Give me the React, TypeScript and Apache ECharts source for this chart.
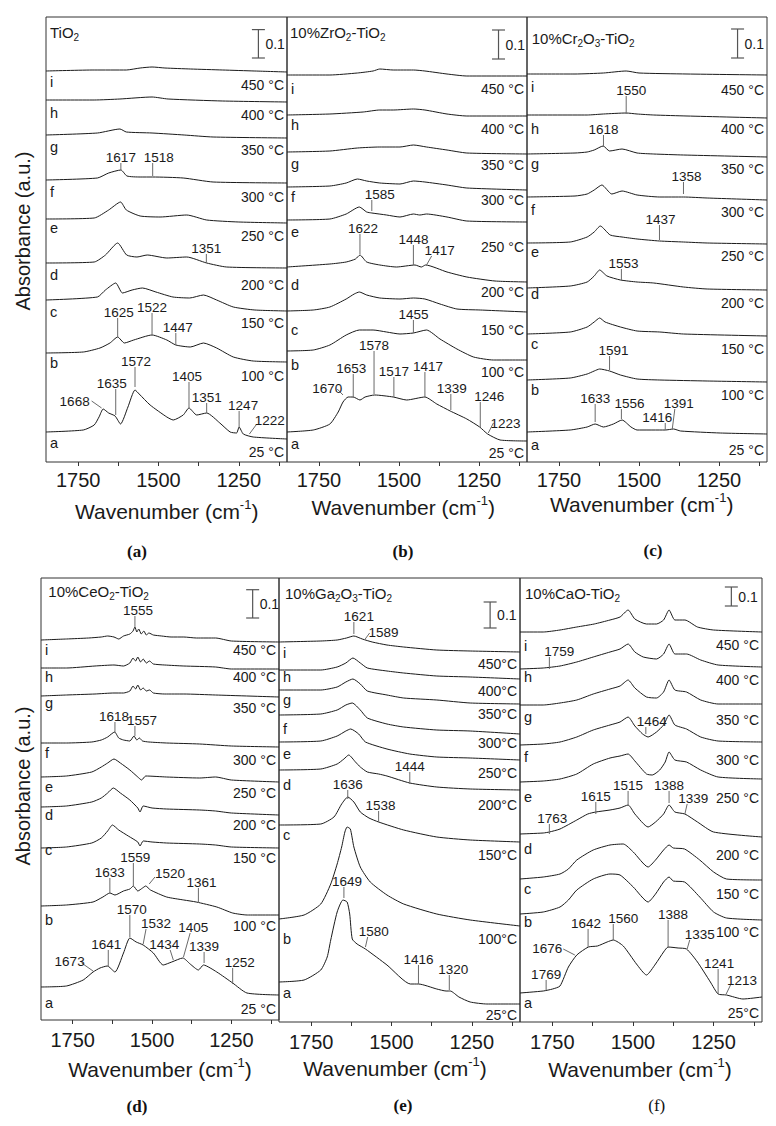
import React, { useEffect, useRef } from 'react';
import * as echarts from 'echarts';

const FONT = '"Liberation Sans", Arial, sans-serif';
const INK = '#1a1a1a';
const LEAD = '#6a6a6a';

// ---------- axis data ----------
const WN_MIN = 1100;
const WN_MAX = 1850;
const tickValues = [1750, 1625, 1500, 1375, 1250, 1125];
const tickLabelValues = [1750, 1500, 1250];
const traceLetters = ['a', 'b', 'c', 'd', 'e', 'f', 'g', 'h', 'i'];
const temperatures = [25, 100, 150, 200, 250, 300, 350, 400, 450];

// ---------- spectra (wavenumber, absorbance a.u.), traces a..i ----------
const tio2Spectra = [
  [[1850,30],[1734,32],[1700,37],[1685,45],[1672,53],[1655,49],[1635,46],[1618,38],[1595,55],[1573,72],[1560,68],[1526,57],[1474,45],[1454,42],[1423,47],[1405,54],[1381,47],[1350,49],[1309,39],[1277,30],[1257,29],[1249,35],[1236,28],[1205,25],[1100,23]],
  [[1850,109],[1734,110],[1682,114],[1651,119],[1627,125],[1606,119],[1577,122],[1520,127],[1474,122],[1446,117],[1401,115],[1360,119],[1319,114],[1267,105],[1205,101],[1100,100]],
  [[1850,162],[1690,165],[1665,172],[1633,179],[1612,169],[1582,172],[1550,174],[1508,170],[1455,165],[1403,164],[1360,167],[1319,162],[1267,155],[1200,152],[1100,151]],
  [[1850,199],[1700,200],[1665,207],[1627,219],[1599,207],[1567,205],[1535,207],[1474,204],[1412,205],[1350,199],[1288,195],[1100,194]],
  [[1850,243],[1700,244],[1655,252],[1618,260],[1600,252],[1557,246],[1495,245],[1412,247],[1350,242],[1250,240],[1100,239]],
  [[1850,282],[1690,284],[1655,289],[1617,292],[1598,286],[1557,285],[1518,285],[1423,284],[1330,280],[1100,279]],
  [[1850,327],[1690,329],[1620,333],[1600,330],[1520,329],[1420,327],[1330,325],[1100,324]],
  [[1850,362],[1700,362],[1620,363],[1520,365],[1470,363],[1300,361],[1100,360]],
  [[1850,391],[1700,392],[1600,392],[1557,394],[1520,395],[1480,394],[1400,393],[1300,392],[1200,391],[1100,390]],
];

const zro2Spectra = [
  [[1850,30],[1768,32],[1716,38],[1690,50],[1675,60],[1659,65],[1643,65],[1622,62],[1606,65],[1576,67],[1518,65],[1476,62],[1419,65],[1382,58],[1340,51],[1288,43],[1248,35],[1223,28],[1184,22],[1100,21]],
  [[1850,111],[1768,112],[1716,117],[1665,127],[1624,132],[1581,132],[1539,130],[1497,128],[1455,129],[1414,132],[1372,123],[1319,113],[1267,105],[1205,102],[1100,102]],
  [[1850,151],[1768,152],[1716,155],[1665,163],[1640,168],[1624,170],[1601,167],[1560,164],[1497,163],[1455,164],[1419,163],[1372,158],[1319,153],[1246,152],[1100,150]],
  [[1850,195],[1716,198],[1665,200],[1636,203],[1622,207],[1601,200],[1560,197],[1508,195],[1450,197],[1430,195],[1417,197],[1350,190],[1288,185],[1200,181],[1100,180]],
  [[1850,242],[1716,243],[1665,248],[1624,255],[1601,250],[1585,249],[1539,247],[1497,245],[1455,248],[1435,247],[1414,248],[1350,245],[1288,241],[1100,240]],
  [[1850,275],[1716,276],[1665,279],[1630,283],[1601,281],[1560,279],[1497,278],[1455,281],[1419,280],[1350,277],[1288,274],[1100,272]],
  [[1850,310],[1716,311],[1630,314],[1560,315],[1497,315],[1455,317],[1414,315],[1350,312],[1288,309],[1100,308]],
  [[1850,347],[1716,348],[1612,350],[1560,352],[1518,352],[1455,353],[1419,352],[1350,348],[1288,346],[1100,346]],
  [[1850,387],[1716,387],[1630,389],[1581,391],[1560,393],[1518,392],[1455,392],[1419,391],[1350,388],[1288,386],[1100,386]],
];

const cr2o3Spectra = [
  [[1850,30],[1715,32],[1662,35],[1637,38],[1611,35],[1580,38],[1553,42],[1525,35],[1506,32],[1418,32],[1392,33],[1370,31],[1246,29],[1100,28]],
  [[1850,82],[1715,84],[1662,88],[1640,91],[1623,93],[1592,91],[1558,87],[1506,83],[1435,82],[1287,81],[1100,80]],
  [[1850,128],[1715,130],[1662,135],[1640,140],[1623,144],[1606,140],[1558,135],[1506,131],[1435,130],[1361,128],[1100,126]],
  [[1850,174],[1715,176],[1662,180],[1640,186],[1623,192],[1600,186],[1558,182],[1506,180],[1454,179],[1361,175],[1287,173],[1100,172]],
  [[1850,219],[1715,220],[1662,225],[1640,230],[1621,236],[1590,227],[1553,225],[1506,223],[1436,221],[1361,220],[1287,219],[1100,218]],
  [[1850,265],[1700,266],[1662,268],[1640,272],[1616,277],[1585,268],[1553,271],[1506,267],[1435,265],[1361,265],[1287,264],[1100,262]],
  [[1850,308],[1700,309],[1662,310],[1640,312],[1612,316],[1592,311],[1553,313],[1506,309],[1454,308],[1361,307],[1100,305]],
  [[1850,347],[1662,347],[1611,348],[1540,349],[1506,348],[1454,347],[1350,346],[1100,344]],
  [[1850,388],[1700,388],[1611,389],[1540,391],[1500,389],[1350,388],[1100,387]],
];

const ceo2Spectra = [
  [[1850,33],[1770,34],[1717,40],[1686,48],[1664,52],[1641,54],[1617,48],[1590,67],[1570,82],[1550,78],[1528,75],[1496,67],[1465,55],[1438,58],[1403,62],[1380,56],[1354,50],[1338,55],[1296,48],[1246,37],[1201,27],[1100,25]],
  [[1850,114],[1770,115],[1686,118],[1655,123],[1633,127],[1617,125],[1590,129],[1570,131],[1559,134],[1545,129],[1530,132],[1520,134],[1505,130],[1454,123],[1400,120],[1361,118],[1296,113],[1246,107],[1200,105],[1100,105]],
  [[1850,172],[1770,173],[1690,177],[1660,182],[1640,189],[1625,195],[1605,190],[1575,184],[1545,178],[1538,174],[1528,179],[1500,178],[1454,177],[1350,176],[1300,175],[1250,173],[1100,172]],
  [[1850,213],[1770,214],[1690,218],[1660,222],[1640,227],[1622,232],[1600,227],[1570,220],[1545,212],[1538,208],[1528,214],[1500,212],[1454,211],[1350,210],[1300,209],[1250,207],[1100,205]],
  [[1850,243],[1770,244],[1690,248],[1660,253],[1640,257],[1620,261],[1600,257],[1570,250],[1545,243],[1533,240],[1520,244],[1454,243],[1350,242],[1300,243],[1250,240],[1100,238]],
  [[1850,277],[1770,277],[1690,278],[1660,280],[1640,283],[1618,288],[1605,282],[1590,280],[1570,279],[1557,284],[1548,280],[1540,282],[1530,279],[1510,278],[1454,277],[1350,276],[1250,274],[1100,273]],
  [[1850,324],[1770,325],[1680,326],[1620,327],[1590,327],[1570,329],[1560,334],[1552,331],[1545,335],[1536,330],[1528,332],[1518,329],[1508,330],[1496,327],[1460,326],[1400,326],[1300,325],[1100,323]],
  [[1850,352],[1770,352],[1680,354],[1620,355],[1590,354],[1570,357],[1560,362],[1552,359],[1545,363],[1536,358],[1528,361],[1518,357],[1508,359],[1496,356],[1460,355],[1400,354],[1300,353],[1250,351],[1100,351]],
  [[1850,380],[1770,381],[1700,382],[1660,383],[1640,384],[1620,383],[1605,381],[1590,384],[1570,386],[1560,389],[1554,393],[1548,388],[1542,391],[1534,386],[1526,389],[1518,385],[1510,387],[1496,385],[1470,384],[1440,383],[1400,383],[1360,382],[1300,382],[1250,379],[1100,378]],
];

const ga2o3Spectra = [
  [[1850,40],[1772,42],[1720,52],[1700,65],[1689,82],[1669,110],[1651,122],[1638,120],[1630,108],[1622,83],[1607,78],[1581,73],[1514,57],[1441,38],[1416,38],[1359,33],[1330,31],[1317,31],[1290,25],[1255,20],[1203,18],[1100,18]],
  [[1850,103],[1772,107],[1720,118],[1689,138],[1669,158],[1655,175],[1645,190],[1638,195],[1628,193],[1617,175],[1597,155],[1566,140],[1514,127],[1462,118],[1359,108],[1255,102],[1100,96]],
  [[1850,197],[1720,198],[1679,205],[1655,218],[1636,225],[1617,220],[1597,210],[1570,204],[1540,200],[1462,192],[1359,185],[1255,182],[1100,180]],
  [[1850,252],[1720,253],[1669,258],[1648,263],[1633,267],[1612,260],[1597,255],[1575,250],[1540,248],[1514,246],[1443,239],[1359,235],[1255,233],[1100,232]],
  [[1850,280],[1720,281],[1669,286],[1642,291],[1627,293],[1602,288],[1581,280],[1514,273],[1443,268],[1359,265],[1255,264],[1100,262]],
  [[1850,307],[1720,308],[1669,312],[1642,317],[1622,319],[1597,312],[1575,304],[1514,298],[1462,295],[1359,292],[1255,291],[1100,288]],
  [[1850,332],[1720,332],[1669,335],[1642,340],[1620,343],[1597,338],[1575,331],[1514,327],[1462,324],[1359,322],[1255,319],[1100,318]],
  [[1850,352],[1720,352],[1669,355],[1642,359],[1620,364],[1597,359],[1575,354],[1514,351],[1462,349],[1359,346],[1255,345],[1100,343]],
  [[1850,380],[1720,381],[1669,382],[1640,384],[1617,386],[1591,383],[1560,380],[1514,377],[1462,375],[1359,372],[1255,371],[1100,370]],
];

const caoSpectra = [
  [[1850,29],[1778,31],[1749,33],[1726,36],[1700,55],[1674,67],[1638,75],[1610,76],[1580,80],[1561,82],[1530,76],[1489,58],[1458,47],[1430,58],[1405,70],[1391,75],[1360,74],[1334,73],[1300,60],[1260,40],[1236,28],[1210,27],[1159,23],[1100,25]],
  [[1850,108],[1778,110],[1726,115],[1700,122],[1674,132],[1623,143],[1571,148],[1540,147],[1499,135],[1453,120],[1430,128],[1405,140],[1388,145],[1375,141],[1340,140],[1293,125],[1250,110],[1210,104],[1100,102]],
  [[1850,143],[1778,145],[1726,148],[1700,153],[1674,162],[1623,172],[1571,177],[1530,178],[1499,170],[1453,155],[1430,162],[1405,172],[1388,177],[1375,174],[1340,173],[1293,162],[1250,150],[1210,143],[1100,142]],
  [[1850,188],[1778,189],[1759,190],[1726,193],[1674,202],[1640,208],[1615,210],[1571,212],[1540,214],[1515,217],[1494,208],[1453,195],[1430,200],[1405,208],[1388,217],[1370,210],[1339,208],[1300,200],[1250,190],[1100,185]],
  [[1850,240],[1778,241],[1726,243],[1674,248],[1623,258],[1571,264],[1540,266],[1515,268],[1494,261],[1458,248],[1440,247],[1417,252],[1400,260],[1388,270],[1370,262],[1334,260],[1290,252],[1236,245],[1100,243]],
  [[1850,277],[1778,278],[1726,280],[1674,285],[1623,292],[1571,297],[1540,300],[1515,305],[1494,296],[1470,288],[1453,285],[1427,290],[1405,297],[1388,307],[1370,297],[1334,293],[1290,285],[1236,281],[1100,280]],
  [[1850,317],[1778,317],[1726,319],[1674,322],[1623,328],[1571,333],[1540,336],[1515,342],[1494,334],[1458,325],[1427,324],[1405,330],[1388,342],[1370,332],[1334,330],[1290,322],[1236,318],[1100,318]],
  [[1850,353],[1778,354],[1726,356],[1674,360],[1623,365],[1571,370],[1540,373],[1515,378],[1494,370],[1468,365],[1427,363],[1405,368],[1388,378],[1370,368],[1334,368],[1290,362],[1236,357],[1100,355]],
  [[1850,390],[1778,390],[1726,392],[1674,395],[1620,398],[1571,402],[1540,405],[1515,412],[1494,403],[1458,398],[1427,398],[1405,402],[1388,412],[1370,402],[1339,402],[1300,395],[1250,392],[1100,390]],
];

// ---------- peak annotations: [label, wnCurve, yCurve, wnTop, yTop, dxPx, dyPx] ----------
const tio2Peaks = [
  ['1617',1617,292,1617,299,0,0],['1518',1518,286,1518,299,6,0],['1351',1351,199,1351,208,0,0],
  ['1625',1627,125,1627,144,1,0],['1522',1520,127,1520,149,0,0],['1447',1446,117,1446,129,2,0],
  ['1572',1573,75,1573,95,1,0],['1635',1633,47,1633,73,-4,0],['1668',1677,54,1708,61,-17,6],
  ['1405',1405,54,1405,80,-2,0],['1351',1350,49,1350,59,0,0],['1247',1249,35,1249,51,4,0],
  ['1222',1217,28,1194,38,13,2],
];
const zro2Peaks = [
  ['1585',1585,251,1585,262,8,0],['1622',1622,208,1622,228,3,0],['1448',1455,197,1455,217,0,0],
  ['1417',1414,197,1398,206,8,0],['1455',1455,129,1455,142,0,0],['1670',1675,67,1693,73,-10,5],
  ['1653',1643,64,1643,88,-2,0],['1578',1578,68,1578,111,0,0],['1517',1516,65,1516,85,0,0],
  ['1417',1419,65,1419,90,3,0],['1339',1338,52,1338,68,1,0],['1246',1246,35,1246,60,9,0],
  ['1223',1221,29,1205,39,12,6],
];
const cr2o3Peaks = [
  ['1550',1540,348,1540,366,5,0],['1618',1611,316,1611,327,0,0],['1358',1361,268,1361,280,3,0],
  ['1437',1436,222,1436,237,1,0],['1553',1555,182,1555,193,2,0],['1591',1592,92,1592,106,4,0],
  ['1633',1637,40,1637,58,0,0],['1556',1555,43,1555,53,8,0],['1416',1418,32,1418,39,-8,0],
  ['1391',1396,33,1388,53,4,0],
];
const ceo2Peaks = [
  ['1555',1554,393,1554,404,3,0],['1618',1617,287,1617,298,-1,0],['1557',1554,284,1554,294,7,0],
  ['1633',1633,127,1633,142,0,0],['1559',1559,134,1559,157,2,0],['1520',1509,136,1491,143,15,2],
  ['1361',1354,117,1354,132,3,0],['1570',1570,83,1570,105,2,0],['1532',1528,76,1519,91,10,0],
  ['1641',1638,53,1638,70,-2,0],['1673',1686,49,1722,57,-12,4],['1434',1433,60,1443,70,-6,0],
  ['1405',1401,63,1380,87,3,0],['1339',1336,57,1336,68,0,0],['1252',1246,36,1246,52,7,0],
];
const ga2o3Peaks = [
  ['1621',1617,388,1617,400,5,0],['1589',1584,382,1568,389,14,5],['1444',1443,238,1443,250,0,0],
  ['1636',1636,223,1636,232,0,0],['1538',1540,200,1540,211,2,0],['1649',1648,124,1648,135,3,0],
  ['1580',1581,75,1574,85,6,0],['1416',1416,38,1416,57,0,0],['1320',1320,32,1320,47,4,0],
];
const caoPeaks = [
  ['1759',1759,353,1759,365,10,0],['1464',1460,288,1460,295,6,0],['1615',1615,208,1615,220,0,0],
  ['1515',1515,217,1515,231,0,0],['1388',1388,219,1388,231,0,0],['1339',1339,208,1332,218,6,0],
  ['1763',1759,188,1759,198,3,0],['1642',1639,75,1639,93,-2,0],['1560',1561,82,1561,98,10,0],
  ['1676',1680,67,1716,73,-16,5],['1388',1391,74,1391,102,5,0],['1335',1332,73,1324,82,10,0],
  ['1769',1769,32,1769,42,0,0],['1241',1236,28,1236,53,1,0],['1213',1211,28,1196,38,11,2],
];

// ---------- scale bar: 0.1 absorbance expressed in a.u. per panel ----------
const scaleBarLength = [28.4, 29, 29, 28.3, 26, 19];

// ---------- text ----------
const panelTitles = [
  '{t|TiO}{s|2}',
  '{t|10%ZrO}{s|2}{t|-TiO}{s|2}',
  '{t|10%Cr}{s|2}{t|O}{s|3}{t|-TiO}{s|2}',
  '{t|10%CeO}{s|2}{t|-TiO}{s|2}',
  '{t|10%Ga}{s|2}{t|O}{s|3}{t|-TiO}{s|2}',
  '{t|10%CaO-TiO}{s|2}',
];
const captionTexts = ['(a)', '(b)', '(c)', '(d)', '(e)', '(f)'];
const spaced = temperatures.map((t) => `${t} °C`);
const tempTexts = [
  spaced, spaced, spaced, spaced,
  temperatures.map((t) => `${t}°C`),
  temperatures.map((t, i) => (i === 0 ? `${t}°C` : `${t} °C`)),
];

// ---------- layout (pixels / label anchor heights) ----------
const gridBoxes = [
  [46, 17, 241, 445], [287, 17, 240, 445], [527, 17, 240, 445],
  [41, 578, 238, 442], [279, 578, 241, 444], [520, 578, 242, 444],
];
const letterY = [
  [18.7, 98.7, 150.3, 187, 233.7, 270.3, 315.3, 348.7, 380],
  [18.4, 96.7, 131.7, 176.7, 230, 265, 298.4, 336.7, 373.4],
  [16.7, 72.4, 118.4, 168.4, 210, 251.7, 298.4, 333.4, 375],
  [16.7, 100, 170, 205, 233.3, 266.7, 316.7, 343.3, 370],
  [29, 83.4, 186.7, 236.7, 268.4, 293.4, 321.7, 345, 369],
  [19, 100, 133.4, 173.4, 225, 265, 305, 345, 375.7],
];
const tempY = [
  [10.3, 86, 139.3, 177, 226, 265.3, 312, 347, 377],
  [9, 90, 131.7, 170, 215, 261.7, 296.7, 333.4, 373.4],
  [11.7, 66.7, 113.4, 159, 205.7, 250, 293.4, 333.4, 372.4],
  [10.7, 94, 161.7, 195, 226.7, 260, 311.7, 343.3, 370],
  [6.7, 83.4, 166.7, 216.7, 249, 279, 307.7, 330.7, 358.4],
  [9, 90, 128.4, 166.7, 224.4, 261.7, 301.7, 341.7, 376.7],
];
const scaleBarAnchor = [[1189, 404], [1189, 403], [1192, 404], [1183, 402], [1193, 394], [1195, 416]];
const titlePos = [[50, 32], [290, 32.5], [531.7, 38], [48.3, 591], [285, 593], [525, 593]];
const xNamePos = [[166.7, 511], [403.3, 507], [641.7, 504], [160, 1069], [395, 1068], [640, 1069]];
const captionPos = [[137, 551.7], [403, 551.7], [653, 550], [137, 1106.7], [403, 1105], [656.7, 1105]];
const yNamePos = [[23, 231], [23, 786]];

const spectraSets = [tio2Spectra, zro2Spectra, cr2o3Spectra, ceo2Spectra, ga2o3Spectra, caoSpectra];
const peakSets: any[] = [tio2Peaks, zro2Peaks, cr2o3Peaks, ceo2Peaks, ga2o3Peaks, caoPeaks];

function txt(text: string, x: number, y: number, align: string, vAlign: string, size = 14) {
  return {
    type: 'text',
    x,
    y,
    silent: true,
    style: {
      text,
      fill: INK,
      font: `${size}px ${FONT}`,
      align,
      verticalAlign: vAlign,
      textAlign: align,
      textVerticalAlign: vAlign,
    },
  };
}

function buildOption() {
  const series: any[] = [];
  spectraSets.forEach((set, p) => {
    set.forEach((trace, t) => {
      series.push({
        type: 'line',
        name: `${captionTexts[p]} ${traceLetters[t]}`,
        xAxisIndex: p,
        yAxisIndex: p,
        data: trace,
        symbol: 'none',
        showSymbol: false,
        smooth: 0.2,
        silent: true,
        lineStyle: { color: INK, width: 1 },
        z: 2,
      });
    });

    const peaks = peakSets[p];
    series.push({
      type: 'custom',
      coordinateSystem: 'cartesian2d',
      xAxisIndex: p,
      yAxisIndex: p,
      clip: false,
      silent: true,
      z: 3,
      data: peaks.map((a: any) => [a[1], a[2]]),
      renderItem: (params: any, api: any) => {
        const a = peaks[params.dataIndex];
        const p1 = api.coord([a[1], a[2]]);
        const p2 = api.coord([a[3], a[4]]);
        return {
          type: 'group',
          children: [
            { type: 'line', shape: { x1: p1[0], y1: p1[1], x2: p2[0], y2: p2[1] }, style: { stroke: LEAD, lineWidth: 1 } },
            txt(a[0], p2[0] + a[5], p2[1] + a[6] + 1, 'center', 'bottom', 13.5),
          ],
        };
      },
    });

    series.push({
      type: 'custom',
      coordinateSystem: 'cartesian2d',
      xAxisIndex: p,
      yAxisIndex: p,
      clip: false,
      silent: true,
      z: 3,
      data: letterY[p].map((h) => [WN_MAX, h]),
      renderItem: (params: any, api: any) => {
        const i = params.dataIndex;
        const pl = api.coord([WN_MAX, letterY[p][i]]);
        const pt = api.coord([WN_MIN, tempY[p][i]]);
        return {
          type: 'group',
          children: [
            txt(traceLetters[i], pl[0] + 4, pl[1], 'left', 'middle', 14.5),
            txt(tempTexts[p][i], pt[0] - 3, pt[1], 'right', 'middle', 14),
          ],
        };
      },
    });

    series.push({
      type: 'custom',
      coordinateSystem: 'cartesian2d',
      xAxisIndex: p,
      yAxisIndex: p,
      clip: false,
      silent: true,
      z: 3,
      data: [scaleBarAnchor[p]],
      renderItem: (params: any, api: any) => {
        const [wn, h] = scaleBarAnchor[p];
        const b = api.coord([wn, h]);
        const t = api.coord([wn, h + scaleBarLength[p]]);
        const st = { stroke: '#555', lineWidth: 1.2 };
        return {
          type: 'group',
          children: [
            { type: 'line', shape: { x1: b[0], y1: b[1], x2: t[0], y2: t[1] }, style: st },
            { type: 'line', shape: { x1: b[0] - 6.5, y1: b[1], x2: b[0] + 6.5, y2: b[1] }, style: st },
            { type: 'line', shape: { x1: t[0] - 6.5, y1: t[1], x2: t[0] + 6.5, y2: t[1] }, style: st },
            txt('0.1', b[0] + 7, (b[1] + t[1]) / 2, 'left', 'middle', 14),
          ],
        };
      },
    });
  });

  const graphic: any[] = [];
  const titleRich = {
    t: { fontSize: 15, lineHeight: 20, fontFamily: FONT, fill: INK, color: INK },
    s: { fontSize: 10, lineHeight: 10, fontFamily: FONT, fill: INK, color: INK, verticalAlign: 'bottom' },
  };
  const nameRich = {
    a: { fontSize: 21, lineHeight: 26, fontFamily: FONT, fill: INK, color: INK },
    s: { fontSize: 13, lineHeight: 12, fontFamily: FONT, fill: INK, color: INK, verticalAlign: 'top' },
  };
  panelTitles.forEach((t, i) => {
    graphic.push({
      type: 'text', x: titlePos[i][0], y: titlePos[i][1], silent: true,
      style: { text: t, rich: titleRich, fill: INK, font: `15px ${FONT}`, align: 'left', verticalAlign: 'middle', textAlign: 'left', textVerticalAlign: 'middle' },
    });
    graphic.push({
      type: 'text', x: xNamePos[i][0], y: xNamePos[i][1], silent: true,
      style: { text: '{a|Wavenumber (cm}{s|-1}{a|)}', rich: nameRich, fill: INK, font: `21px ${FONT}`, align: 'center', verticalAlign: 'middle', textAlign: 'center', textVerticalAlign: 'middle' },
    });
    graphic.push({
      type: 'text', x: captionPos[i][0], y: captionPos[i][1], silent: true,
      style: {
        text: captionTexts[i], fill: '#111',
        font: `${i === 5 ? 'normal' : 'bold'} 17px "Liberation Serif", "Times New Roman", serif`,
        align: 'center', verticalAlign: 'middle', textAlign: 'center', textVerticalAlign: 'middle',
      },
    });
  });
  yNamePos.forEach(([x, y]) => {
    graphic.push({
      type: 'text', x, y, rotation: Math.PI / 2, silent: true,
      style: { text: 'Absorbance (a.u.)', fill: INK, font: `20px ${FONT}`, align: 'center', verticalAlign: 'middle', textAlign: 'center', textVerticalAlign: 'middle' },
    });
  });

  return {
    animation: false,
    backgroundColor: '#ffffff',
    grid: gridBoxes.map(([l, t, w, h]) => ({
      left: l, top: t, width: w, height: h, show: true,
      borderColor: '#333', borderWidth: 1, backgroundColor: 'transparent', containLabel: false,
    })),
    xAxis: gridBoxes.map((_, i) => ({
      type: 'value',
      gridIndex: i,
      min: WN_MIN,
      max: WN_MAX,
      inverse: true,
      axisLine: { show: false },
      splitLine: { show: false },
      axisTick: { show: true, length: 4, customValues: tickValues, lineStyle: { color: '#333' } },
      axisLabel: {
        show: true,
        customValues: tickLabelValues,
        formatter: (v: number) => String(Math.round(v)),
        fontSize: 20,
        fontFamily: FONT,
        color: INK,
        margin: i < 3 ? 8 : 10,
      },
    })),
    yAxis: gridBoxes.map((g, i) => ({ type: 'value', gridIndex: i, min: 0, max: g[3], show: false })),
    series,
    graphic,
  };
}

export default function App() {
  const ref = useRef<HTMLDivElement>(null);
  useEffect(() => {
    if (!ref.current) return;
    const chart = echarts.init(ref.current, null, { renderer: 'svg' });
    chart.setOption(buildOption() as any);
    return () => chart.dispose();
  }, []);
  return (
    <div
      ref={ref}
      style={{ position: 'absolute', left: 0, top: 0, width: 776, height: 1126, background: '#fff' }}
    />
  );
}
